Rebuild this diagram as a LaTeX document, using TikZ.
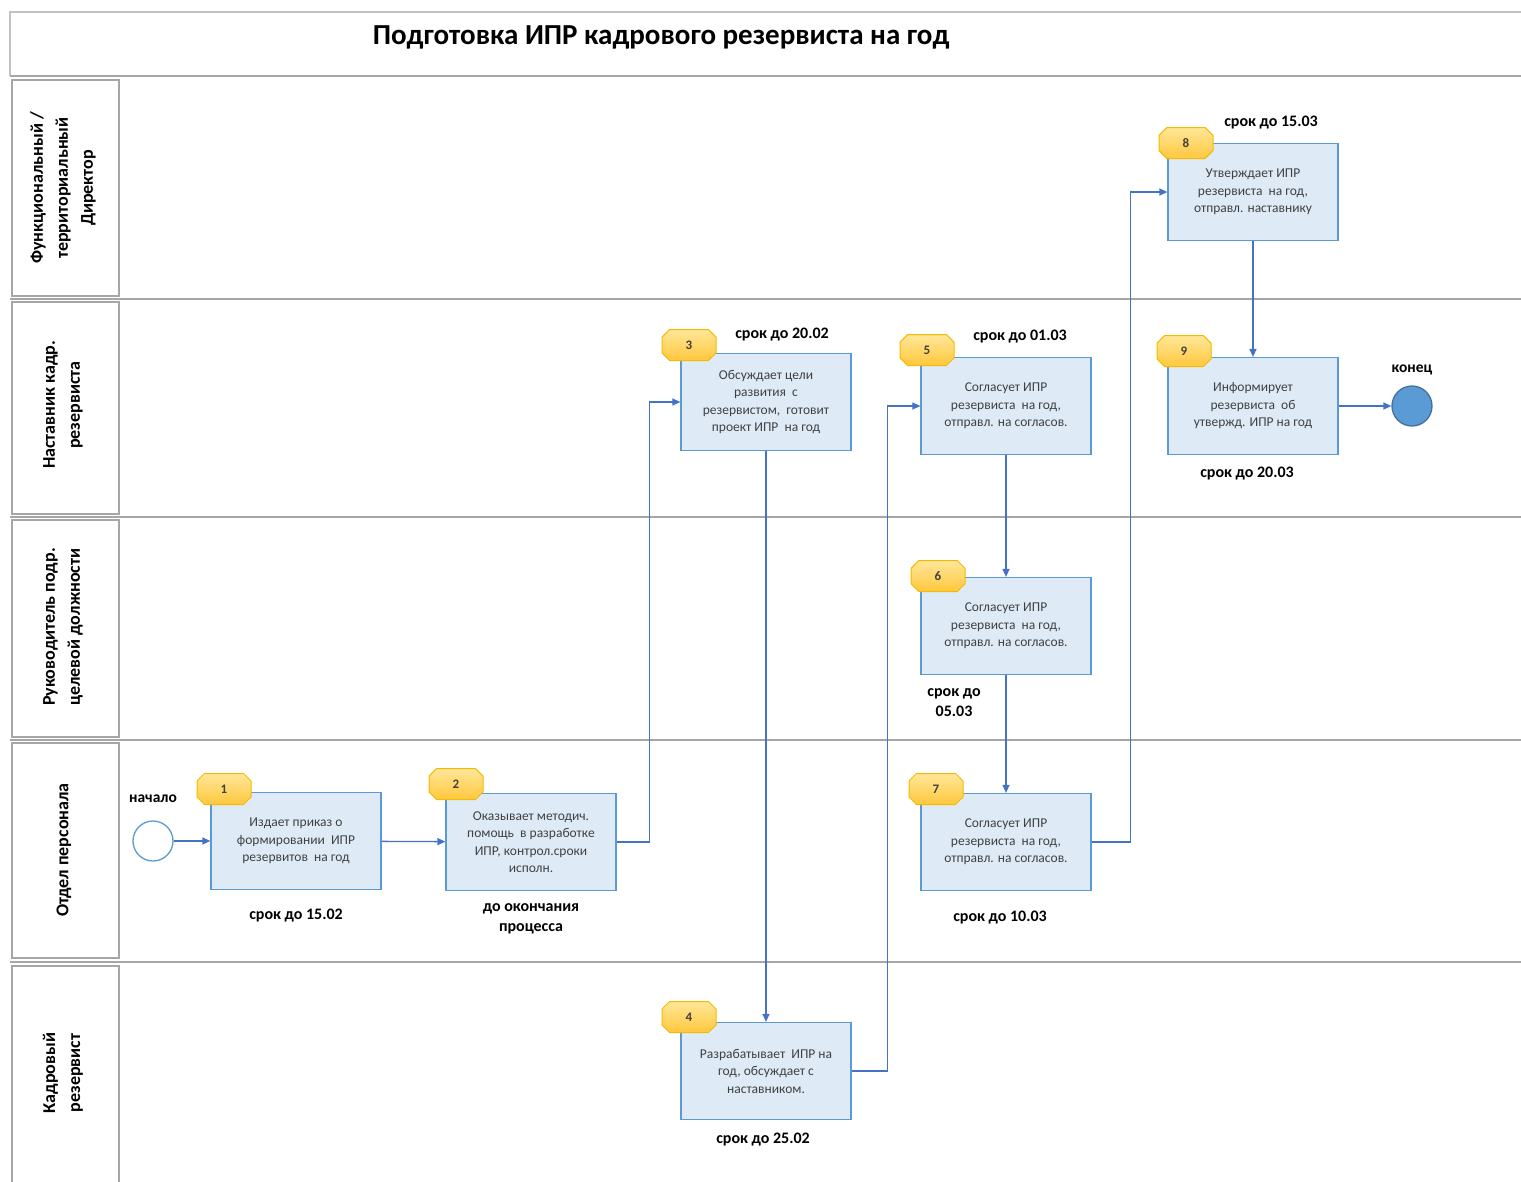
\documentclass[tikz,border=0pt]{standalone}
\usepackage{fontspec}
\setmainfont{Carlito}
\usetikzlibrary{shapes.misc,arrows.meta}
\definecolor{boxfill}{HTML}{DEEBF7}
\definecolor{boxline}{HTML}{5B9BD5}
\definecolor{arrowblue}{HTML}{4472C4}
\definecolor{lanegray}{HTML}{A6A6A6}
\definecolor{textgray}{HTML}{404040}
\definecolor{badgetop}{HTML}{FFE699}
\definecolor{badgebot}{HTML}{FFC83D}
\definecolor{badgeline}{HTML}{F5BA00}
\definecolor{endfill}{HTML}{5B9BD5}
\definecolor{endline}{HTML}{41719C}
\begin{document}
\begin{tikzpicture}[x=1pt,y=-1pt,
  stepbox/.style={draw=boxline, fill=boxfill, line width=1.2pt, minimum width=170pt, minimum height=97pt,
    align=center, font=\fontsize{13.5}{17.5}\selectfont, text=textgray, inner sep=0pt},
  badge/.style={chamfered rectangle, chamfered rectangle xsep=8pt, chamfered rectangle ysep=8pt,
    draw=badgeline, top color=badgetop, bottom color=badgebot, line width=1pt,
    minimum width=54pt, minimum height=31pt, inner sep=0pt, font=\bfseries\fontsize{13}{14}\selectfont, text=textgray},
  conn/.style={draw=arrowblue, line width=1.3pt, -{Triangle[length=8pt,width=7pt]}},
  lanebox/.style={draw=lanegray, line width=1.4pt},
  sep/.style={draw=lanegray, line width=2.4pt},
  lanelabel/.style={rotate=90, align=center, font=\bfseries\fontsize{18}{25}\selectfont},
  deadline/.style={align=center, font=\bfseries\fontsize{16}{20}\selectfont},
  endlabel/.style={font=\bfseries\fontsize{15.5}{18}\selectfont},
]
\useasboundingbox (0,0) rectangle (1521,1181);
% frame
\draw[draw=lanegray!70, line width=1.2pt] (10,76) -- (10,12) -- (1521,12);
\node[font=\bfseries\fontsize{29}{32}\selectfont] (title) at (661,37) {Подготовка ИПР кадрового резервиста на год};
\draw[sep] (10,76) -- (1521,76);
\draw[sep] (10,299) -- (1521,299);
\draw[sep] (10,517) -- (1521,517);
\draw[sep] (10,740) -- (1521,740);
\draw[sep] (10,962) -- (1521,962);
% lane label boxes
\draw[lanebox] (12,80) rectangle (119,296);
\draw[lanebox] (12,302) rectangle (119,514);
\draw[lanebox] (12,520) rectangle (119,737);
\draw[lanebox] (12,743) rectangle (119,958);
\draw[lanebox] (12,966) rectangle (119,1190);
\node[lanelabel] (l1) at (63,188) {Функциональный /\\территориальный\\Директор};
\node[lanelabel] (l2) at (63,405) {Наставник кадр.\\резервиста};
\node[lanelabel] (l3) at (63,627) {Руководитель подр.\\целевой должности};
\node[lanelabel] (l4) at (64,850) {Отдел персонала};
\node[lanelabel] (l5) at (63,1073) {Кадровый\\резервист};
% start / end
\node[circle, draw=boxline, fill=white, line width=1.3pt, minimum size=40pt, inner sep=0pt] (start) at (153,841) {};
\node[endlabel] (startlbl) at (153,799) {начало};
\node[circle, draw=endline, fill=endfill, line width=1.3pt, minimum size=40pt, inner sep=0pt] (end) at (1412,406) {};
\node[endlabel] (endlbl) at (1412,370) {конец};
% steps
\node[stepbox] (b1) at (296,841) {Издает приказ о\\формировании~ ИПР\\резервитов~ на год};
\node[stepbox] (b2) at (531,842) {Оказывает методич.\\помощь~ в разработке\\ИПР, контрол.сроки\\исполн.};
\node[stepbox] (b3) at (766,402) {Обсуждает цели\\развития~ с\\резервистом,~ готовит\\проект ИПР~ на год};
\node[stepbox] (b4) at (766,1071) {Разрабатывает~ ИПР на\\год, обсуждает с\\наставником.};
\node[stepbox] (b5) at (1006,406) {Согласует ИПР\\резервиста~ на год,\\отправл. на согласов.};
\node[stepbox] (b6) at (1006,626) {Согласует ИПР\\резервиста~ на год,\\отправл. на согласов.};
\node[stepbox] (b7) at (1006,842) {Согласует ИПР\\резервиста~ на год,\\отправл. на согласов.};
\node[stepbox] (b8) at (1253,192) {Утверждает ИПР\\резервиста~ на год,\\отправл. наставнику};
\node[stepbox] (b9) at (1253,406) {Информирует\\резервиста~ об\\утвержд. ИПР на год};
% badges
\node[badge] (n1) at (224,789) {1};
\node[badge] (n2) at (456,784) {2};
\node[badge] (n3) at (689,345) {3};
\node[badge] (n4) at (689,1017) {4};
\node[badge] (n5) at (927,350) {5};
\node[badge] (n6) at (938,576) {6};
\node[badge] (n7) at (936,789) {7};
\node[badge] (n8) at (1186,143) {8};
\node[badge] (n9) at (1184,351) {9};
% deadlines
\node[deadline] (d1) at (296,916) {срок до 15.02};
\node[deadline] (d2) at (531,919) {до окончания\\процесса};
\node[deadline] (d3) at (782,335) {срок до 20.02};
\node[deadline] (d4) at (763,1140) {срок до 25.02};
\node[deadline] (d5) at (1020,337) {срок до 01.03};
\node[deadline] (d6) at (954,703) {срок до\\05.03};
\node[deadline] (d7) at (1000,918) {срок до 10.03};
\node[deadline] (d8) at (1271,123) {срок до 15.03};
\node[deadline] (d9) at (1247,474) {срок до 20.03};
% connectors
\draw[conn] (start) -- (b1);
\draw[conn] (b1) -- (b2);
\draw[conn] (b2.east) -- ++(33,0) |- (b3.west);
\draw[conn] (b3.south) -- (b4.north);
\draw[conn] (b4.east) -- ++(36,0) |- (b5.west);
\draw[conn] (b5.south) -- (b6.north);
\draw[conn] (b6.south) -- (b7.north);
\draw[conn] (b7.east) -- ++(39,0) |- (b8.west);
\draw[conn] (b8.south) -- (b9.north);
\draw[conn] (b9) -- (end);
\end{tikzpicture}
\end{document}
